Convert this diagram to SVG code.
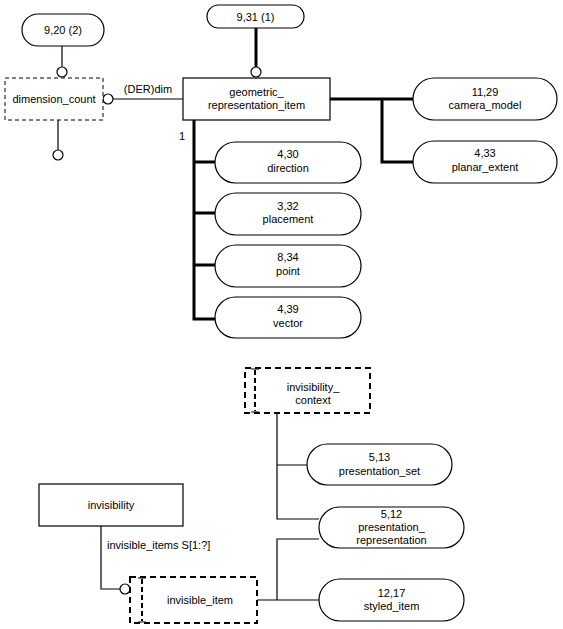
<svg xmlns="http://www.w3.org/2000/svg" width="563" height="629" viewBox="0 0 563 629">
<style>
text{font-family:"Liberation Sans",Arial,sans-serif;font-size:11px;fill:#000;text-anchor:middle}
.box{fill:#fff;stroke:#000;stroke-width:1.2}
.dash{fill:#fff;stroke:#000;stroke-width:1;stroke-dasharray:4 3}
.tdash{fill:#fff;stroke:#000;stroke-width:2;stroke-dasharray:6 4}
.tin{fill:none;stroke:#000;stroke-width:2;stroke-dasharray:5 3}
.thin{fill:none;stroke:#000;stroke-width:1.2}
.thick{fill:none;stroke:#000;stroke-width:3}
.circ{fill:#fff;stroke:#000;stroke-width:1.2}
</style>
<rect width="563" height="629" fill="#fff"/>
<g id="connectors">
<path class="thin" d="M62 46V67"/>
<path class="thin" d="M113 99H183"/>
<path class="thin" d="M58 120V150"/>
<path class="thick" d="M256 28V67"/>
<path class="thick" d="M330 99H413M382 99V162H413"/>
<path class="thick" d="M194 120V319H215M194 162H215M194 213H215M194 265H215"/>
<path class="thin" d="M277 413V519H319M277 465H307"/>
<path class="thin" d="M257 600H319M277 600V539H319"/>
<path class="thin" d="M101 526V589H120"/>
<circle class="circ" cx="62" cy="72" r="5"/>
<circle class="circ" cx="108" cy="99" r="5"/>
<circle class="circ" cx="58" cy="155" r="5"/>
<circle class="circ" cx="256" cy="72" r="5"/>
<circle class="circ" cx="125" cy="589" r="5"/>
<text x="148" y="93">(DER)dim</text>
<text x="182" y="140">1</text>
<text x="107" y="549" style="text-anchor:start">invisible_items S[1:?]</text>
</g>
<g id="n920"><rect class="box" x="22" y="14" width="82" height="32" rx="16"/><text x="63" y="34">9,20 (2)</text></g>
<g id="dimension_count"><rect class="dash" x="5" y="78" width="98" height="42"/><text x="54" y="103">dimension_count</text></g>
<g id="n931"><rect class="box" x="207" y="5" width="97" height="23" rx="11.5"/><text x="255.5" y="21">9,31 (1)</text></g>
<g id="geometric_representation_item"><rect class="box" x="183" y="78" width="147" height="42"/><text x="256.5" y="96">geometric_</text><text x="256.5" y="109">representation_item</text></g>
<g id="camera_model"><rect class="box" x="413" y="78" width="144" height="42" rx="21"/><text x="485" y="96">11,29</text><text x="485" y="109">camera_model</text></g>
<g id="planar_extent"><rect class="box" x="413" y="141" width="144" height="42" rx="21"/><text x="485" y="157">4,33</text><text x="485" y="171">planar_extent</text></g>
<g id="direction"><rect class="box" x="215" y="142" width="146" height="41" rx="20.5"/><text x="288" y="158">4,30</text><text x="288" y="172">direction</text></g>
<g id="placement"><rect class="box" x="215" y="193" width="146" height="42" rx="21"/><text x="288" y="210">3,32</text><text x="288" y="223">placement</text></g>
<g id="point"><rect class="box" x="215" y="245" width="146" height="42" rx="21"/><text x="288" y="261">8,34</text><text x="288" y="275">point</text></g>
<g id="vector"><rect class="box" x="215" y="297" width="146" height="41" rx="20.5"/><text x="288" y="313">4,39</text><text x="288" y="327">vector</text></g>
<g id="invisibility_context"><rect class="tdash" x="245" y="368" width="125" height="45"/><path class="tin" d="M255 370V411"/><path class="thin" d="M251 369H259M251 412H259"/><text x="313" y="391">invisibility_</text><text x="313" y="404">context</text></g>
<g id="presentation_set"><rect class="box" x="307" y="444" width="145" height="41" rx="20.5"/><text x="379.5" y="461">5,13</text><text x="379.5" y="475">presentation_set</text></g>
<g id="presentation_representation"><rect class="box" x="319" y="507" width="145" height="41" rx="20.5"/><text x="391.5" y="518">5,12</text><text x="391.5" y="531">presentation_</text><text x="391.5" y="544">representation</text></g>
<g id="styled_item"><rect class="box" x="319" y="579" width="145" height="42" rx="21"/><text x="391.5" y="597">12,17</text><text x="391.5" y="610">styled_item</text></g>
<g id="invisibility"><rect class="box" x="39" y="484" width="144" height="42"/><text x="111" y="509">invisibility</text></g>
<g id="invisible_item"><rect class="tdash" x="130" y="577" width="127" height="46"/><path class="tin" d="M142 579V621"/><path class="thin" d="M138 578H146M138 622H146"/><text x="200" y="604">invisible_item</text></g>
</svg>
